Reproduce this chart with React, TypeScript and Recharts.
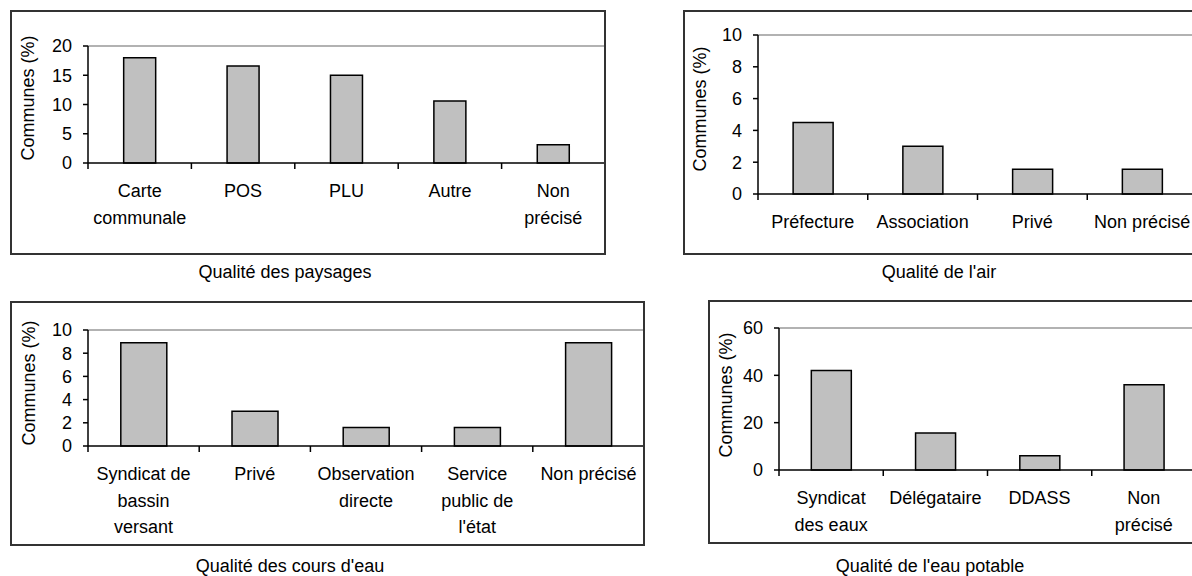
import { Bar, BarChart, ReferenceLine, XAxis, YAxis } from "recharts";

// Qualité des paysages
const PAYSAGES_CATEGORIES = ["Carte\ncommunale", "POS", "PLU", "Autre", "Non\nprécisé"];
const PAYSAGES_VALUES = [18, 16.6, 15.0, 10.6, 3.1];
const PAYSAGES_TICKS = [0, 5, 10, 15, 20];

// Qualité de l'air
const AIR_CATEGORIES = ["Préfecture", "Association", "Privé", "Non précisé"];
const AIR_VALUES = [4.5, 3.0, 1.55, 1.55];
const AIR_TICKS = [0, 2, 4, 6, 8, 10];

// Qualité des cours d'eau
const COURS_CATEGORIES = [
  "Syndicat de\nbassin\nversant",
  "Privé",
  "Observation\ndirecte",
  "Service\npublic de\nl'état",
  "Non précisé",
];
const COURS_VALUES = [8.9, 3.0, 1.6, 1.6, 8.9];
const COURS_TICKS = [0, 2, 4, 6, 8, 10];

// Qualité de l'eau potable
const POTABLE_CATEGORIES = ["Syndicat\ndes eaux", "Délégataire", "DDASS", "Non\nprécisé"];
const POTABLE_VALUES = [42, 15.6, 6, 36];
const POTABLE_TICKS = [0, 20, 40, 60];

const Y_LABEL = "Communes (%)";
const FONT = '"Liberation Sans", Arial, sans-serif';
const FONT_SIZE = 18;

interface Layout {
  boxL: number;
  boxT: number;
  boxR: number;
  boxB: number;
  axisX: number;
  plotTop: number;
  plotBottom: number;
  plotRight: number;
  labelX: number;
  labelY: number;
  titleX: number;
  titleY: number;
  gap: string;
}

interface PanelProps {
  title: string;
  categories: string[];
  values: number[];
  ticks: number[];
  layout: Layout;
}

function Panel({ title, categories, values, ticks, layout: l }: PanelProps) {
  const data = categories.map((c, i) => ({ name: c, value: values[i] }));
  const max = ticks[ticks.length - 1];
  const band = (l.plotRight - l.axisX) / categories.length;

  const renderTick = (props: any) => {
    const { x, y, payload, index } = props;
    const half = payload?.offset || band / 2;
    const lines = String(payload.value).split("\n");
    return (
      <g>
        <line x1={x - half} x2={x - half} y1={y} y2={y + 6} stroke="#000" strokeWidth={1.5} />
        {index === categories.length - 1 && (
          <line x1={x + half} x2={x + half} y1={y} y2={y + 6} stroke="#000" strokeWidth={1.5} />
        )}
        <text x={x} y={y + 34} textAnchor="middle" fontSize={FONT_SIZE} fontFamily={FONT} fill="#000">
          {lines.map((t, i) => (
            <tspan key={i} x={x} dy={i === 0 ? 0 : 26.5}>
              {t}
            </tspan>
          ))}
        </text>
      </g>
    );
  };

  const renderYLabel = () => {
    const cx = l.labelX - l.boxL;
    const cy = l.labelY - l.boxT;
    return (
      <text
        x={cx}
        y={cy}
        transform={`rotate(-90 ${cx} ${cy})`}
        textAnchor="middle"
        dominantBaseline="central"
        fontSize={FONT_SIZE}
        fontFamily={FONT}
        fill="#000"
      >
        {Y_LABEL}
      </text>
    );
  };

  return (
    <>
      <div style={{ position: "absolute", left: l.boxL, top: l.boxT }}>
        <BarChart
          width={l.plotRight - l.boxL}
          height={l.boxB - l.boxT}
          data={data}
          margin={{ top: l.plotTop - l.boxT, right: 0, bottom: 0, left: 0 }}
          barCategoryGap={l.gap}
        >
          <ReferenceLine y={max} stroke="#999" strokeWidth={1.5} />
          <XAxis
            dataKey="name"
            interval={0}
            height={l.boxB - l.plotBottom}
            tickLine={false}
            tickSize={0}
            tickMargin={0}
            axisLine={{ stroke: "#000", strokeWidth: 1.5 }}
            tick={renderTick}
          />
          <YAxis
            domain={[0, max]}
            ticks={ticks}
            interval={0}
            width={l.axisX - l.boxL}
            tickSize={5}
            tickMargin={11}
            axisLine={{ stroke: "#000", strokeWidth: 1.5 }}
            tickLine={{ stroke: "#000", strokeWidth: 1.5 }}
            tick={{ fill: "#000", fontSize: FONT_SIZE, fontFamily: FONT }}
            label={renderYLabel}
          />
          <Bar dataKey="value" fill="#C0C0C0" stroke="#000" strokeWidth={1.5} isAnimationActive={false} />
        </BarChart>
      </div>
      <div
        style={{
          position: "absolute",
          left: l.boxL - 1,
          top: l.boxT - 1,
          width: l.boxR - l.boxL + 2,
          height: l.boxB - l.boxT + 2,
          border: "2px solid #333",
          boxSizing: "border-box",
          pointerEvents: "none",
        }}
      />
      <svg
        width={600}
        height={30}
        style={{ position: "absolute", left: l.titleX - 300, top: l.titleY - 22 }}
      >
        <text x={300} y={22} textAnchor="middle" fontSize={FONT_SIZE} fontFamily={FONT} fill="#000">
          {title}
        </text>
      </svg>
    </>
  );
}

export default function App() {
  return (
    <div
      style={{
        position: "absolute",
        left: 0,
        top: 0,
        width: 1192,
        height: 576,
        overflow: "hidden",
        background: "#fff",
      }}
    >
      <Panel
        title="Qualité des paysages"
        categories={PAYSAGES_CATEGORIES}
        values={PAYSAGES_VALUES}
        ticks={PAYSAGES_TICKS}
        layout={{
          boxL: 11, boxT: 11, boxR: 605, boxB: 254,
          axisX: 88, plotTop: 46, plotBottom: 163, plotRight: 605,
          labelX: 28, labelY: 98, titleX: 285, titleY: 278, gap: "34.5%",
        }}
      />
      <Panel
        title="Qualité de l'air"
        categories={AIR_CATEGORIES}
        values={AIR_VALUES}
        ticks={AIR_TICKS}
        layout={{
          boxL: 684, boxT: 11, boxR: 1215, boxB: 254,
          axisX: 758, plotTop: 35, plotBottom: 194, plotRight: 1197,
          labelX: 700, labelY: 109, titleX: 939, titleY: 278, gap: "32%",
        }}
      />
      <Panel
        title="Qualité des cours d'eau"
        categories={COURS_CATEGORIES}
        values={COURS_VALUES}
        ticks={COURS_TICKS}
        layout={{
          boxL: 11, boxT: 302, boxR: 644, boxB: 545,
          axisX: 88, plotTop: 330, plotBottom: 446, plotRight: 644,
          labelX: 29, labelY: 383, titleX: 290, titleY: 572, gap: "29.5%",
        }}
      />
      <Panel
        title="Qualité de l'eau potable"
        categories={POTABLE_CATEGORIES}
        values={POTABLE_VALUES}
        ticks={POTABLE_TICKS}
        layout={{
          boxL: 709, boxT: 301, boxR: 1215, boxB: 543,
          axisX: 779, plotTop: 328, plotBottom: 470, plotRight: 1196,
          labelX: 726, labelY: 395, titleX: 930, titleY: 572, gap: "31%",
        }}
      />
    </div>
  );
}
